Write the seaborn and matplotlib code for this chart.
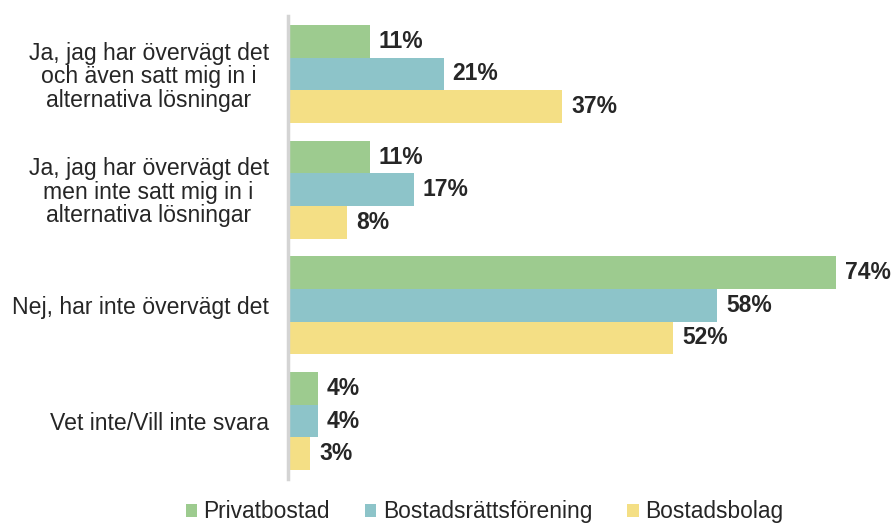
import matplotlib
matplotlib.use("Agg")
import matplotlib.pyplot as plt
import seaborn as sns
import pandas as pd
from matplotlib.patches import Patch

categories = [
    "Ja, jag har övervägt det\noch även satt mig in i\nalternativa lösningar",
    "Ja, jag har övervägt det\nmen inte satt mig in i\nalternativa lösningar",
    "Nej, har inte övervägt det",
    "Vet inte/Vill inte svara",
]
series = ["Privatbostad", "Bostadsrättsförening", "Bostadsbolag"]
privatbostad = [11, 11, 74, 4]
bostadsratt = [21, 17, 58, 4]
bostadsbolag = [37, 8, 52, 3]
colors = ["#9DCB8F", "#8DC4C9", "#F4DF85"]

rows = []
for s, vals in zip(series, [privatbostad, bostadsratt, bostadsbolag]):
    for c, v in zip(categories, vals):
        rows.append({"cat": c, "series": s, "val": v})
df = pd.DataFrame(rows)

sns.set_style("white")
plt.rcParams["font.family"] = ["Liberation Sans", "DejaVu Sans"]

fig = plt.figure(figsize=(8.92, 5.25), dpi=100)
ax = fig.add_axes([0.323, 0.0876, 0.667, 0.8819])
sns.barplot(data=df, y="cat", x="val", hue="series", order=categories,
            hue_order=series, palette=colors, width=0.845, saturation=1,
            orient="h", ax=ax, legend=False, edgecolor="none")

for cont in ax.containers:
    ax.bar_label(cont, labels=[f"{int(round(b.get_width()))}%" for b in cont],
                 padding=6.5, fontsize=16.5, fontweight="bold", color="#262626")

ax.set_xlim(0, 80.4)
ax.set_ylim(3.5, -0.5)
ax.set_xlabel("")
ax.set_ylabel("")
ax.set_xticks([])
for s in ["top", "right", "bottom"]:
    ax.spines[s].set_visible(False)
ax.spines["left"].set_color("#D4D4D4")
ax.spines["left"].set_linewidth(2.5)
ax.tick_params(axis="y", length=0, pad=14)
for lbl in ax.get_yticklabels():
    lbl.set_multialignment("center")
    lbl.set_fontsize(16.6)
    lbl.set_color("#262626")
    lbl.set_linespacing(1.03)

handles = [Patch(facecolor=c, edgecolor="none") for c in colors]
fig.legend(handles, series, loc="lower center", bbox_to_anchor=(0.543, -0.036),
           ncol=3, frameon=False, fontsize=16.4, handlelength=0.5,
           handleheight=0.5, handletextpad=0.27, columnspacing=1.55,
           labelcolor="#262626")

fig.savefig("out.png", dpi=100)
